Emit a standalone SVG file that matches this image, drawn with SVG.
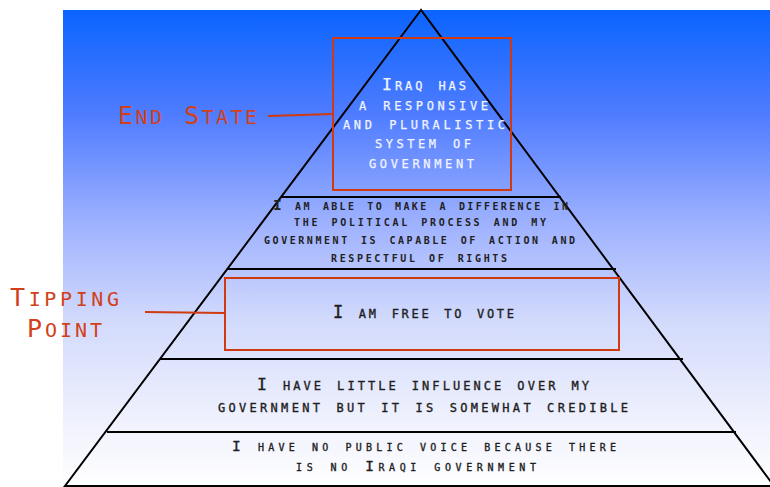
<svg xmlns="http://www.w3.org/2000/svg" width="770" height="487" viewBox="0 0 770 487">
  <defs>
    <linearGradient id="bg" x1="0" y1="0" x2="0" y2="1">
      <stop offset="0" stop-color="#0a64ff"/>
      <stop offset="0.22" stop-color="#4f7cff"/>
      <stop offset="0.45" stop-color="#9fb2ff"/>
      <stop offset="0.65" stop-color="#d2dafc"/>
      <stop offset="0.85" stop-color="#eef0fd"/>
      <stop offset="1" stop-color="#ffffff"/>
    </linearGradient>
  </defs>
  <style>
    .t { font-family: "DejaVu Sans Mono", "Liberation Mono", monospace; font-variant: small-caps; }
    .w { fill: #f2f4ff; stroke: #f2f4ff; stroke-width: 0.25; font-size: 16.5px; }
    .d { fill: #1e1e1e; stroke: #1e1e1e; stroke-width: 0.35; font-size: 16.5px; }
    .v { fill: #1e1e1e; stroke: #1e1e1e; stroke-width: 0.35; font-size: 17px; }
    .n { fill: #1e1e1e; stroke: #1e1e1e; stroke-width: 0.35; font-size: 14.5px; }
    .s { fill: #222222; font-size: 14.5px; font-weight: bold; }
    .r { fill: #d2401a; font-size: 29px; }
    .c { font-size: 25px; }
    .edge { stroke: #000000; stroke-width: 2; fill: none; }
    .box { stroke: #d03a10; stroke-width: 2; fill: none; }
    .conn { stroke: #d03a10; stroke-width: 2; fill: none; }
  </style>
  <rect x="63" y="10" width="707" height="477" fill="url(#bg)"/>

  <g id="pyramid">
    <polygon class="edge" points="421,10 65,486 774,486"/>
  </g>

  <g id="layer-end-state">
    <rect class="box" x="333" y="38" width="178" height="152"/>
    <text class="t w" x="382" y="90" textLength="84" lengthAdjust="spacing">Iraq has</text>
    <text class="t w" x="359" y="110" textLength="129" lengthAdjust="spacing">a responsive</text>
    <text class="t w" x="343" y="129" textLength="162" lengthAdjust="spacing">and pluralistic</text>
    <text class="t w" x="375" y="148" textLength="96" lengthAdjust="spacing">system of</text>
    <text class="t w" x="369" y="168" textLength="105" lengthAdjust="spacing">government</text>
  </g>

  <g id="layer-difference">
    <line class="edge" x1="281" y1="197" x2="561" y2="197"/>
    <text class="t s" x="273" y="210" textLength="295" lengthAdjust="spacing">I am able to make a difference in</text>
    <text class="t s" x="294" y="226" textLength="252" lengthAdjust="spacing">the political process and my</text>
    <text class="t s" x="264" y="244" textLength="311" lengthAdjust="spacing">government is capable of action and</text>
    <text class="t s" x="331" y="262" textLength="176" lengthAdjust="spacing">respectful of rights</text>
  </g>

  <g id="layer-vote">
    <line class="edge" x1="227" y1="269" x2="616" y2="269"/>
    <rect class="box" x="225" y="278" width="394" height="72"/>
    <text class="t v" x="333" y="318" textLength="181" lengthAdjust="spacing">I am free to vote</text>
  </g>

  <g id="layer-influence">
    <line class="edge" x1="160" y1="359" x2="683" y2="359"/>
    <text class="t d" x="257" y="390" textLength="332" lengthAdjust="spacing">I have little influence over my</text>
    <text class="t d" x="218" y="412" textLength="410" lengthAdjust="spacing">government but it is somewhat credible</text>
  </g>

  <g id="layer-no-voice">
    <line class="edge" x1="107" y1="432" x2="736" y2="432"/>
    <text class="t n" x="232" y="451" textLength="384" lengthAdjust="spacing">I have no public voice because there</text>
    <text class="t n" x="296" y="471" textLength="240" lengthAdjust="spacing">is no Iraqi government</text>
  </g>

  <g id="label-end-state">
    <text class="t r" x="118" y="124" textLength="139" lengthAdjust="spacing"><tspan class="c">E</tspan>nd <tspan class="c">S</tspan>tate</text>
  </g>

  <g id="label-tipping-point">
    <text class="t r" x="10" y="306" textLength="109" lengthAdjust="spacing"><tspan class="c">T</tspan>ipping</text>
    <text class="t r" x="27" y="337" textLength="75" lengthAdjust="spacing"><tspan class="c">P</tspan>oint</text>
  </g>

  <g id="connectors">
    <line class="conn" x1="268" y1="116" x2="333" y2="114"/>
    <line class="conn" x1="145" y1="312" x2="225" y2="313"/>
  </g>
</svg>
